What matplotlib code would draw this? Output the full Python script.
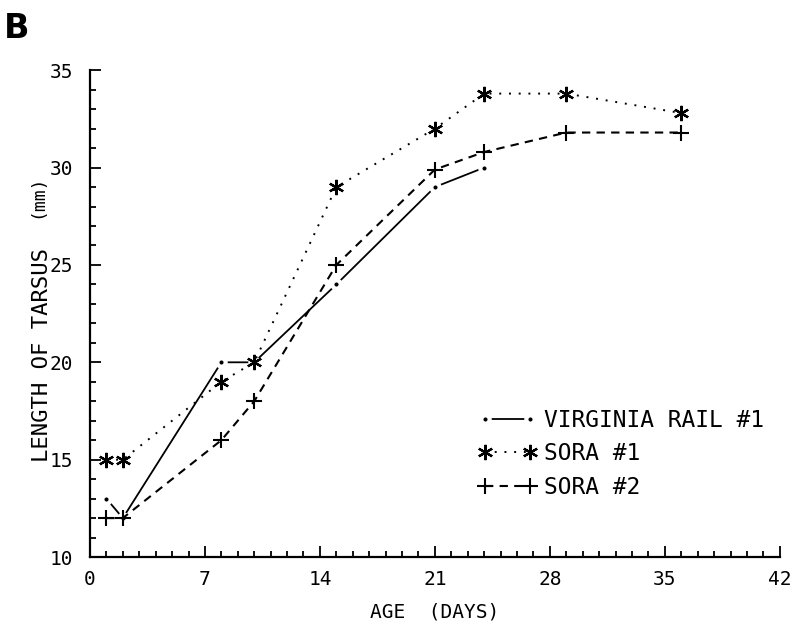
import numpy as np
import matplotlib
matplotlib.use("Agg")
import matplotlib.pyplot as plt
from matplotlib.ticker import MultipleLocator

# dane
rail_age = [1, 2, 8, 10, 15, 21, 24]
rail_len = [13, 12, 20, 20, 24, 29, 30]

sora1_age = [1, 2, 8, 10, 15, 21, 24, 29, 36]
sora1_len = [15, 15, 19, 20, 29, 32, 33.8, 33.8, 32.8]

sora2_age = [1, 2, 8, 10, 15, 21, 24, 29, 36]
sora2_len = [12, 12, 16, 18, 25, 29.9, 30.8, 31.8, 31.8]

x_ticks = [0, 7, 14, 21, 28, 35, 42]
y_ticks = [10, 15, 20, 25, 30, 35]

plt.rcParams['font.family'] = ['DejaVu Sans Mono']

fig = plt.figure(figsize=(7.99, 6.27), dpi=100)
ax = fig.add_axes([0.1126, 0.1116, 0.8634, 0.7764])

# kropki z bialym obrysem -> przerwa w linii przy punkcie, jak z plotera
ax.plot(rail_age, rail_len, color='black', lw=1.3, ls='-',
        marker='o', ms=6, mfc='black', mec='white', mew=3,
        label='VIRGINIA RAIL #1', zorder=2)
ax.plot(sora1_age, sora1_len, color='black', lw=1.4, ls=(0, (1, 4)),
        marker=(6, 2, 0), ms=11, mew=1.6, label='SORA #1', zorder=3)
ax.plot(sora2_age, sora2_len, color='black', lw=1.5, ls=(0, (4, 3)),
        marker='+', ms=12, mew=1.5, label='SORA #2', zorder=3)

ax.set_xlim(0, 42)
ax.set_ylim(10, 35)
ax.set_xticks(x_ticks)
ax.set_yticks(y_ticks)
ax.xaxis.set_minor_locator(MultipleLocator(1))
ax.yaxis.set_minor_locator(MultipleLocator(1))
ax.tick_params(which='both', direction='in', width=1.3, labelsize=14)
ax.tick_params(which='major', length=8)
ax.tick_params(which='minor', length=4)
ax.tick_params(axis='x', pad=9)
ax.tick_params(axis='y', pad=12)

for s in ['top', 'right']:
    ax.spines[s].set_visible(False)
for s in ['left', 'bottom']:
    ax.spines[s].set_linewidth(1.6)

ax.set_xlabel('AGE  (DAYS)', fontsize=14, labelpad=10)
fig.text(0.052, 0.434, 'LENGTH OF TARSUS', rotation=90, fontsize=16,
         ha='center', va='center')
fig.text(0.047, 0.687, '(mm)', rotation=90, fontsize=13,
         ha='center', va='center')

leg = ax.legend(loc='lower left', bbox_to_anchor=(0.562, 0.12), frameon=False,
                numpoints=2, fontsize=16.5, handlelength=2.6, handletextpad=0.3,
                labelspacing=0.45, borderpad=0, borderaxespad=0)

fig.text(0.005, 0.955, 'B', fontsize=24, fontweight='bold', va='center',
         family='DejaVu Sans')

fig.savefig('out.png', dpi=100)
